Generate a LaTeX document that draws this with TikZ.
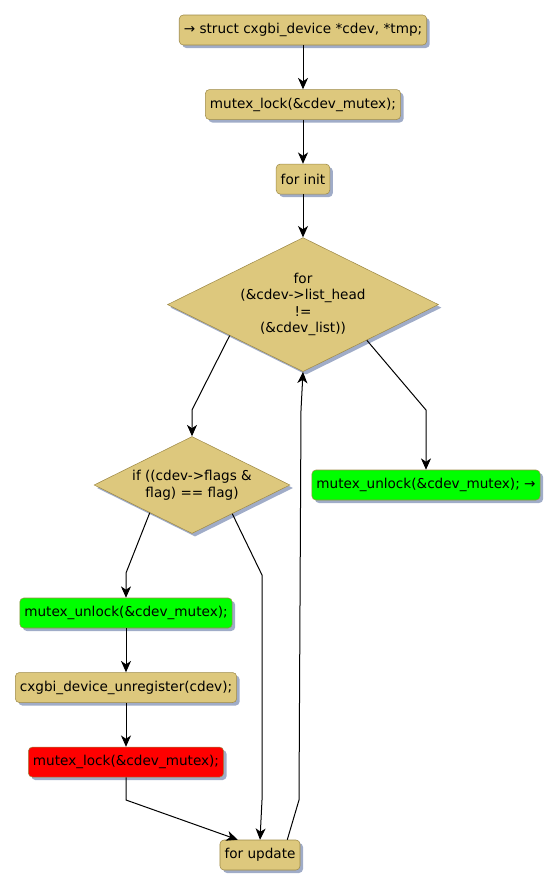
\documentclass[tikz,border=0pt]{standalone}
\usepackage{fontspec}
\setmainfont{DejaVu Sans}
\usetikzlibrary{arrows.meta, positioning, shapes.geometric, shadows, calc}
\definecolor{boxfill}{RGB}{221,200,125}
\definecolor{boxline}{RGB}{158,138,72}
\definecolor{shadowc}{RGB}{160,172,200}
\definecolor{okgreen}{RGB}{0,255,0}
\definecolor{badred}{RGB}{255,0,0}

\begin{document}
\begin{tikzpicture}[
    x=0.75pt, y=-0.75pt,
    node distance=33pt,
    every node/.style={font=\fontsize{10.2}{12.4}\selectfont},
    shade/.style={drop shadow={shadow xshift=2.25pt, shadow yshift=-2.25pt,
                  fill=shadowc, opacity=1}},
    box/.style={draw=boxline, fill=boxfill, rounded corners=3pt, align=center,
                inner xsep=3.4pt, minimum height=22.5pt, shade},
    okbox/.style={box, fill=okgreen},
    badbox/.style={box, fill=badred},
    dec/.style={draw=boxline, fill=boxfill, diamond, aspect=2, align=center,
                inner sep=0pt, shade},
    arrow/.style={-{Stealth[length=8.5pt, width=7.5pt, inset=2.5pt]}, line width=0.75pt}
]
    \useasboundingbox (0,0) rectangle (560,889);

    \node[box] (decl) at (303,30) {→ struct cxgbi\_device *cdev, *tmp;};
    \node[box, below=of decl] (lock) {mutex\_lock(\&cdev\_mutex);};
    \node[box, below=of lock] (init) {for init};
    \node[dec, below=32.25pt of init, minimum width=203.25pt, minimum height=100.5pt] (loop)
        {for\\(\&cdev->list\_head\\!=\\(\&cdev\_list))};
    \node[dec, minimum width=147pt, minimum height=72.75pt] (cond) at (192,485)
        {if ((cdev->flags \&\\flag) == flag)};
    \node[okbox] (exit) at (426,485) {mutex\_unlock(\&cdev\_mutex); →};
    \node[okbox] (unlock) at (126,613) {mutex\_unlock(\&cdev\_mutex);};
    \node[box, below=of unlock] (unreg) {cxgbi\_device\_unregister(cdev);};
    \node[badbox, below=of unreg] (relock) {mutex\_lock(\&cdev\_mutex);};
    \node[box] (update) at (260,855) {for update};

    \draw[arrow] (decl) -- (lock);
    \draw[arrow] (lock) -- (init);
    \draw[arrow] (init) -- (loop);
    \draw[arrow] ($(loop.west)!0.46!(loop.south)$) -- (192,410) -- (cond.north);
    \draw[arrow] ($(loop.south)!0.47!(loop.east)$) -- (426,410) -- (exit.north);
    \draw[arrow] ($(cond.west)!0.57!(cond.south)$) -- (126,573) -- (unlock.north);
    \draw[arrow] ($(cond.south)!0.41!(cond.east)$) -- (262,575) -- (262,800) -- (update.north);
    \draw[arrow] (unlock) -- (unreg);
    \draw[arrow] (unreg) -- (relock);
    \draw[arrow] (relock.south) -- (126,800) -- ([xshift=13.5pt]update.north west);
    \draw[arrow] ([xshift=-9.75pt]update.north east) -- (299,800) -- (301,410) -- (loop.south);
\end{tikzpicture}
\end{document}
